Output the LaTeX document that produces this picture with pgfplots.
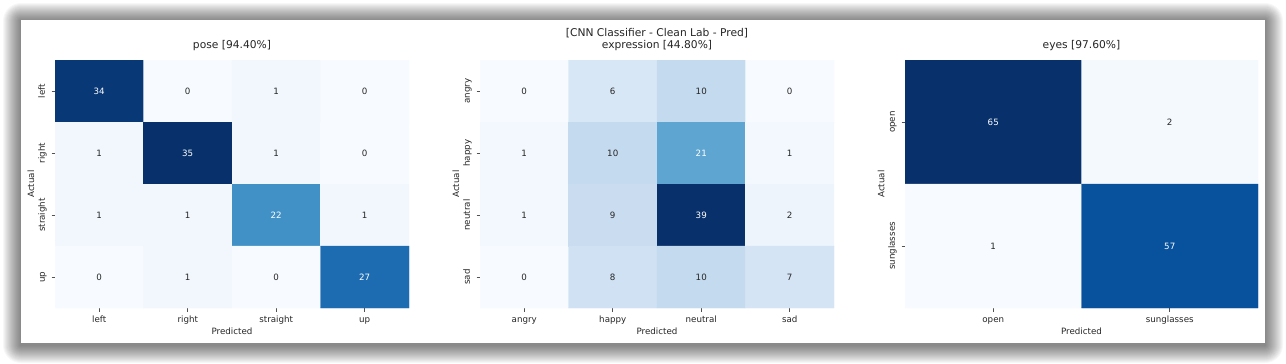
\documentclass[border=0pt]{standalone}
\usepackage{pgfplots}
\pgfplotsset{compat=1.18}
\usepackage{pgfplotstable}
\usepackage{fontspec}
\setmainfont{DejaVu Sans}
\definecolor{tg}{HTML}{262626}
\pgfplotsset{colormap={blues}{rgb255(0cm)=(247,251,255) rgb255(1cm)=(222,235,247) rgb255(2cm)=(198,219,239) rgb255(3cm)=(158,202,225) rgb255(4cm)=(107,174,214) rgb255(5cm)=(66,146,198) rgb255(6cm)=(33,113,181) rgb255(7cm)=(8,81,156) rgb255(8cm)=(8,48,107)}}

\pgfplotstableread{
x y c
0 0 34
1 0 0
2 0 1
3 0 0
0 1 1
1 1 35
2 1 1
3 1 0
0 2 1
1 2 1
2 2 22
3 2 1
0 3 0
1 3 1
2 3 0
3 3 27
}\posedata

\pgfplotstableread{
x y c
0 0 0
1 0 6
2 0 10
3 0 0
0 1 1
1 1 10
2 1 21
3 1 1
0 2 1
1 2 9
2 2 39
3 2 2
0 3 0
1 3 8
2 3 10
3 3 7
}\exprdata

\pgfplotstableread{
x y c
0 0 65
1 0 2
0 1 1
1 1 57
}\eyesdata

\newcommand{\lbl}{\fontsize{8.7}{10}\selectfont}
\newcommand{\ttl}{\fontsize{10.7}{12}\selectfont}

\pgfplotsset{
  cmaxis/.style={
    scale only axis, width=354pt, height=248pt, anchor=north west,
    colormap name=blues, enlargelimits=false,
    y dir=reverse, axis line style={draw=none},
    tick align=outside, major tick length=3.5pt,
    tick style={color=tg!80, line width=0.8pt},
    xtick pos=bottom, ytick pos=left,
    typeset ticklabels with strut,
    xticklabel style={font=\lbl, text=tg},
    yticklabel style={font=\lbl, text=tg, rotate=90, anchor=south},
    xlabel={Predicted}, ylabel={Actual},
    every axis x label/.style={at={(axis description cs:0.5,0)}, anchor=base, yshift=-26pt, font=\lbl, text=tg},
    every axis y label/.style={at={(axis description cs:-0.0678,0.5)}, anchor=center, rotate=90, font=\lbl, text=tg},
    title style={at={(axis description cs:0.5,1)}, anchor=base, yshift=6pt, font=\ttl, text=tg},
  },
  annot/.style={only marks, mark=none, point meta=explicit symbolic,
    nodes near coords, nodes near coords align={center},
    every node near coord/.append style={font=\lbl, anchor=center, text=#1},
    unbounded coords=discard},
}

\begin{document}
\begin{tikzpicture}
% canvas
\fill[white] (0,0) rectangle (1286pt,-364pt);
% card shadow
\foreach \i in {1,...,18} {
  \fill[black, opacity=0.032, rounded corners=\i pt] (21pt-\i pt,-20pt+\i pt-1pt) rectangle (1265pt+\i pt,-343pt-\i pt-2pt);
}
\fill[white] (21pt,-20pt) rectangle (1265pt,-343pt);
\node[font=\ttl, text=tg, anchor=base] at (657pt,-36pt) {[CNN Classifier - Clean Lab - Pred]};

% pose
\begin{axis}[cmaxis, at={(55pt,-60pt)},
  title={pose [94.40\%]},
  xmin=-0.5, xmax=3.5, ymin=-0.5, ymax=3.5,
  xtick={0,1,2,3}, xticklabels={left,right,straight,up},
  ytick={0,1,2,3}, yticklabels={left,right,straight,up},
  point meta min=0, point meta max=35]
\addplot[matrix plot*, mesh/cols=4, mesh/rows=4, point meta=explicit] table[x=x, y=y, meta=c] {\posedata};
\addplot[annot=tg, y filter/.expression={\thisrow{c}>15 ? nan : y}] table[x=x, y=y, meta=c] {\posedata};
\addplot[annot=white, y filter/.expression={\thisrow{c}>15 ? y : nan}] table[x=x, y=y, meta=c] {\posedata};
\end{axis}

% expression
\begin{axis}[cmaxis, at={(480pt,-60pt)},
  title={expression [44.80\%]},
  xmin=-0.5, xmax=3.5, ymin=-0.5, ymax=3.5,
  xtick={0,1,2,3}, xticklabels={angry,happy,neutral,sad},
  ytick={0,1,2,3}, yticklabels={angry,happy,neutral,sad},
  point meta min=0, point meta max=39]
\addplot[matrix plot*, mesh/cols=4, mesh/rows=4, point meta=explicit] table[x=x, y=y, meta=c] {\exprdata};
\addplot[annot=tg, y filter/.expression={\thisrow{c}>15 ? nan : y}] table[x=x, y=y, meta=c] {\exprdata};
\addplot[annot=white, y filter/.expression={\thisrow{c}>15 ? y : nan}] table[x=x, y=y, meta=c] {\exprdata};
\end{axis}

% eyes
\begin{axis}[cmaxis, at={(905pt,-60pt)}, width=353pt,
  title={eyes [97.60\%]},
  xmin=-0.5, xmax=1.5, ymin=-0.5, ymax=1.5,
  xtick={0,1}, xticklabels={open,sunglasses},
  ytick={0,1}, yticklabels={open,sunglasses},
  point meta min=1, point meta max=65]
\addplot[matrix plot*, mesh/cols=2, mesh/rows=2, point meta=explicit] table[x=x, y=y, meta=c] {\eyesdata};
\addplot[annot=tg, y filter/.expression={\thisrow{c}>30 ? nan : y}] table[x=x, y=y, meta=c] {\eyesdata};
\addplot[annot=white, y filter/.expression={\thisrow{c}>30 ? y : nan}] table[x=x, y=y, meta=c] {\eyesdata};
\end{axis}
\end{tikzpicture}
\end{document}
